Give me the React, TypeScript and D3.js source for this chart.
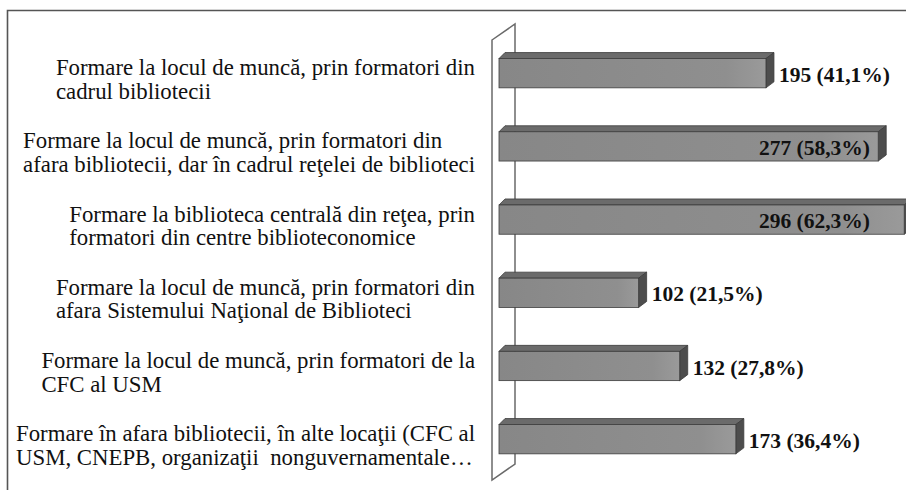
import React, { useEffect, useRef } from "react";
import * as d3 from "d3";

const categories: string[] = [
  "Formare la locul de muncă, prin formatori din\ncadrul bibliotecii",
  "Formare la locul de muncă, prin formatori din\nafara bibliotecii, dar în cadrul reţelei de biblioteci",
  "Formare la biblioteca centrală din reţea, prin\nformatori din centre biblioteconomice",
  "Formare la locul de muncă, prin formatori din\nafara Sistemului Naţional de Biblioteci",
  "Formare la locul de muncă, prin formatori de la\nCFC al USM",
  "Formare în afara bibliotecii, în alte locaţii (CFC al\nUSM, CNEPB, organizaţii  nonguvernamentale…",
];
const values: number[] = [195, 277, 296, 102, 132, 173];
const percents: string[] = ["41,1", "58,3", "62,3", "21,5", "27,8", "36,4"];

const W = 906;
const H = 490;

export default function App() {
  const ref = useRef<SVGSVGElement | null>(null);

  useEffect(() => {
    const svg = d3.select(ref.current);
    svg.selectAll("*").remove();

    const font = "Liberation Serif, Times New Roman, Times, serif";
    const x = d3.scaleLinear().domain([0, 300]).range([499, 499 + 410.7]);
    const y = d3
      .scaleBand<number>()
      .domain(d3.range(categories.length))
      .range([36.6, 475.8])
      .paddingInner(0.6)
      .paddingOuter(0.3);

    const dx = 8;
    const dy = -6;

    svg
      .append("path")
      .attr("d", `M7.5,${H + 5} L7.5,10.5 L${W + 5},10.5`)
      .attr("fill", "none")
      .attr("stroke", "#555")
      .attr("stroke-width", 1.6);

    const wx0 = 492, wx1 = 515, wyTop0 = 40, wyTop1 = 24, wyBot0 = 480, wyBot1 = 464;
    svg
      .append("path")
      .attr(
        "d",
        `M${wx0},${wyTop0} L${wx1},${wyTop1} L${wx1},${wyBot1} L${wx0},${wyBot0} Z`
      )
      .attr("fill", "#fff")
      .attr("stroke", "#6a6a6a")
      .attr("stroke-width", 1.5);

    const defs = svg.append("defs");
    const g = defs
      .append("linearGradient")
      .attr("id", "front")
      .attr("x1", "0")
      .attr("x2", "1")
      .attr("y1", "0")
      .attr("y2", "0");
    g.append("stop").attr("offset", "0").attr("stop-color", "#878787");
    g.append("stop").attr("offset", "0.85").attr("stop-color", "#8f8f8f");
    g.append("stop").attr("offset", "1").attr("stop-color", "#9a9a9a");

    const bars = svg.append("g");
    values.forEach((v, i) => {
      const x0 = x(0);
      const x1 = x(v);
      const y0 = y(i)!;
      const h = y.bandwidth();
      const y1 = y0 + h;
      bars
        .append("path")
        .attr(
          "d",
          `M${x0},${y0} L${x0 + dx - 2},${y0 + dy} L${x1 + dx},${y0 + dy} L${x1},${y0} Z`
        )
        .attr("fill", "#6b6b6b")
        .attr("stroke", "#3c3c3c")
        .attr("stroke-width", 0.8);
      bars
        .append("path")
        .attr(
          "d",
          `M${x1},${y0} L${x1 + dx},${y0 + dy} L${x1 + dx},${y1 + dy} L${x1},${y1} Z`
        )
        .attr("fill", "#4d4d4d")
        .attr("stroke", "#3c3c3c")
        .attr("stroke-width", 0.8);
      bars
        .append("rect")
        .attr("x", x0)
        .attr("y", y0)
        .attr("width", x1 - x0)
        .attr("height", h)
        .attr("fill", "url(#front)")
        .attr("stroke", "#3c3c3c")
        .attr("stroke-width", 0.8);
    });

    values.forEach((v, i) => {
      const cy = y(i)! + y.bandwidth() / 2;
      const t = svg
        .append("text")
        .style("font-family", font)
        .style("font-weight", "bold")
        .style("font-size", "21.5px")
        .attr("fill", "#111")
        .attr("y", cy + 8.5)
        .text(`${v} (${percents[i]}%)`);
      const w = (t.node() as SVGTextElement).getComputedTextLength();
      const xo = x(v) + 13;
      if (xo + w > W) {
        t.attr("x", 870).attr("text-anchor", "end");
      } else {
        t.attr("x", xo);
      }
    });

    categories.forEach((c, i) => {
      const cy = y(i)! + y.bandwidth() / 2;
      const lines = c.split("\n");
      const grp = svg.append("g");
      const texts = lines.map((ln, j) =>
        grp
          .append("text")
          .style("font-family", font)
          .style("font-size", "22.8px")
          .style("white-space", "pre")
          .attr("fill", "#111")
          .attr("y", cy + 2 + j * 23.5)
          .text(ln)
      );
      const maxW = d3.max(texts, (t) => (t.node() as SVGTextElement).getComputedTextLength()) || 0;
      texts.forEach((t) => t.attr("x", 475 - maxW));
    });
  }, []);

  return (
    <svg
      ref={ref}
      width={W}
      height={H}
      style={{ position: "absolute", left: 0, top: 0, background: "#fff", fontFamily: "Liberation Serif, serif" }}
    />
  );
}
